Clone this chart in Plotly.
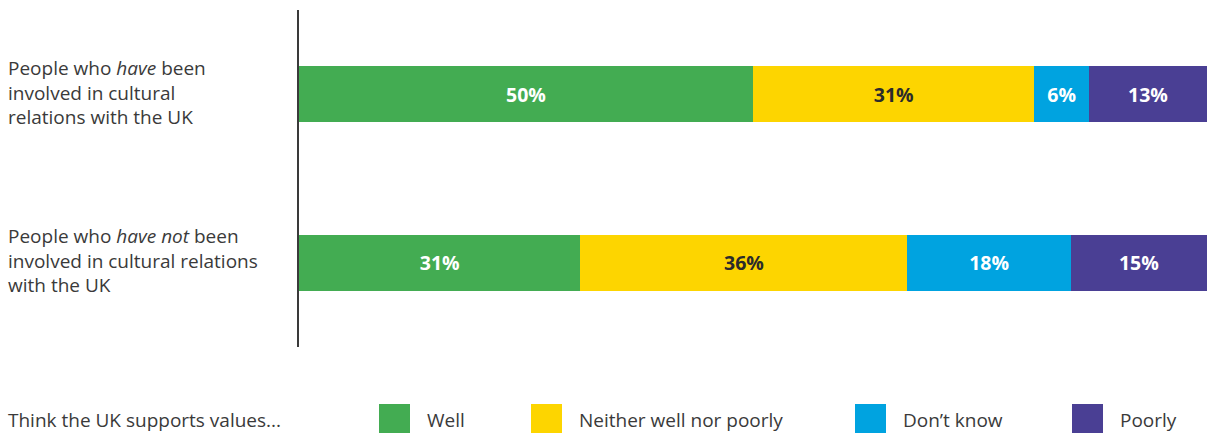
import plotly.graph_objects as go

# Survey groups (top to bottom) and stacked response shares (%)
groups = [
    "People who <i>have</i> been<br>involved in cultural<br>relations with the UK",
    "People who <i>have not</i> been<br>involved in cultural relations<br>with the UK",
]
group_keys = ["have", "have not"]
responses = ["Well", "Neither well nor poorly", "Don\u2019t know", "Poorly"]
well = [50, 31]
neither = [31, 36]
dont_know = [6, 18]
poorly = [13, 15]
legend_title = "Think the UK supports values..."

series_values = [well, neither, dont_know, poorly]
colors = ["#43AC52", "#FDD500", "#00A3E0", "#4A3F94"]
label_colors = ["#FFFFFF", "#2B2B2B", "#FFFFFF", "#FFFFFF"]

FONT = "Open Sans"
W, H = 1207, 433
ML, MR, MT, MB = 299, 0, 10, 86
plot_w = W - ML - MR
plot_h = H - MT - MB


def px_x(px):
    return (px - ML) / plot_w


def px_y(py):
    return (H - MB - py) / plot_h


fig = go.Figure()
for name, vals, col, lcol in zip(responses, series_values, colors, label_colors):
    fig.add_trace(go.Bar(
        y=group_keys, x=vals, name=name, orientation="h",
        marker=dict(color=col, line=dict(width=0)),
        width=0.33,
        text=[f"{v}%" for v in vals],
        textposition="inside", insidetextanchor="middle",
        textfont=dict(family=FONT, size=19.5, color=lcol, weight="bold"),
        hoverinfo="skip", showlegend=False,
    ))

# Group labels on the left
for key, label in zip(group_keys, groups):
    fig.add_annotation(
        x=px_x(6), xref="paper", y=key, yref="y",
        text=label, showarrow=False, xanchor="left", yanchor="middle",
        align="left", yshift=2,
        font=dict(family=FONT, size=19, color="#3A3A3A"),
    )

# Legend row along the bottom
fig.add_annotation(
    x=px_x(6), xref="paper", y=px_y(420), yref="paper",
    text=legend_title, showarrow=False, xanchor="left", yanchor="middle",
    font=dict(family=FONT, size=19, color="#3A3A3A"),
)
legend_box_x = [379, 531, 855, 1072]
for name, col, bx in zip(responses, colors, legend_box_x):
    fig.add_shape(
        type="rect", xref="paper", yref="paper",
        x0=px_x(bx), x1=px_x(bx + 31), y0=px_y(434), y1=px_y(404),
        fillcolor=col, line=dict(width=0),
    )
    fig.add_annotation(
        x=px_x(bx + 46), xref="paper", y=px_y(420), yref="paper",
        text=name, showarrow=False, xanchor="left", yanchor="middle",
        font=dict(family=FONT, size=19, color="#3A3A3A"),
    )

fig.update_layout(
    barmode="stack",
    width=W, height=H,
    margin=dict(l=ML, r=MR, t=MT, b=MB, pad=0),
    paper_bgcolor="white", plot_bgcolor="white",
    xaxis=dict(range=[0, 100], visible=False, fixedrange=True),
    yaxis=dict(
        categoryorder="array", categoryarray=group_keys,
        range=[1.5, -0.5], showticklabels=False, ticks="",
        showgrid=False, zeroline=False,
        showline=True, linecolor="#3A3A3A", linewidth=1.5,
    ),
)

fig.write_html("out.html")
